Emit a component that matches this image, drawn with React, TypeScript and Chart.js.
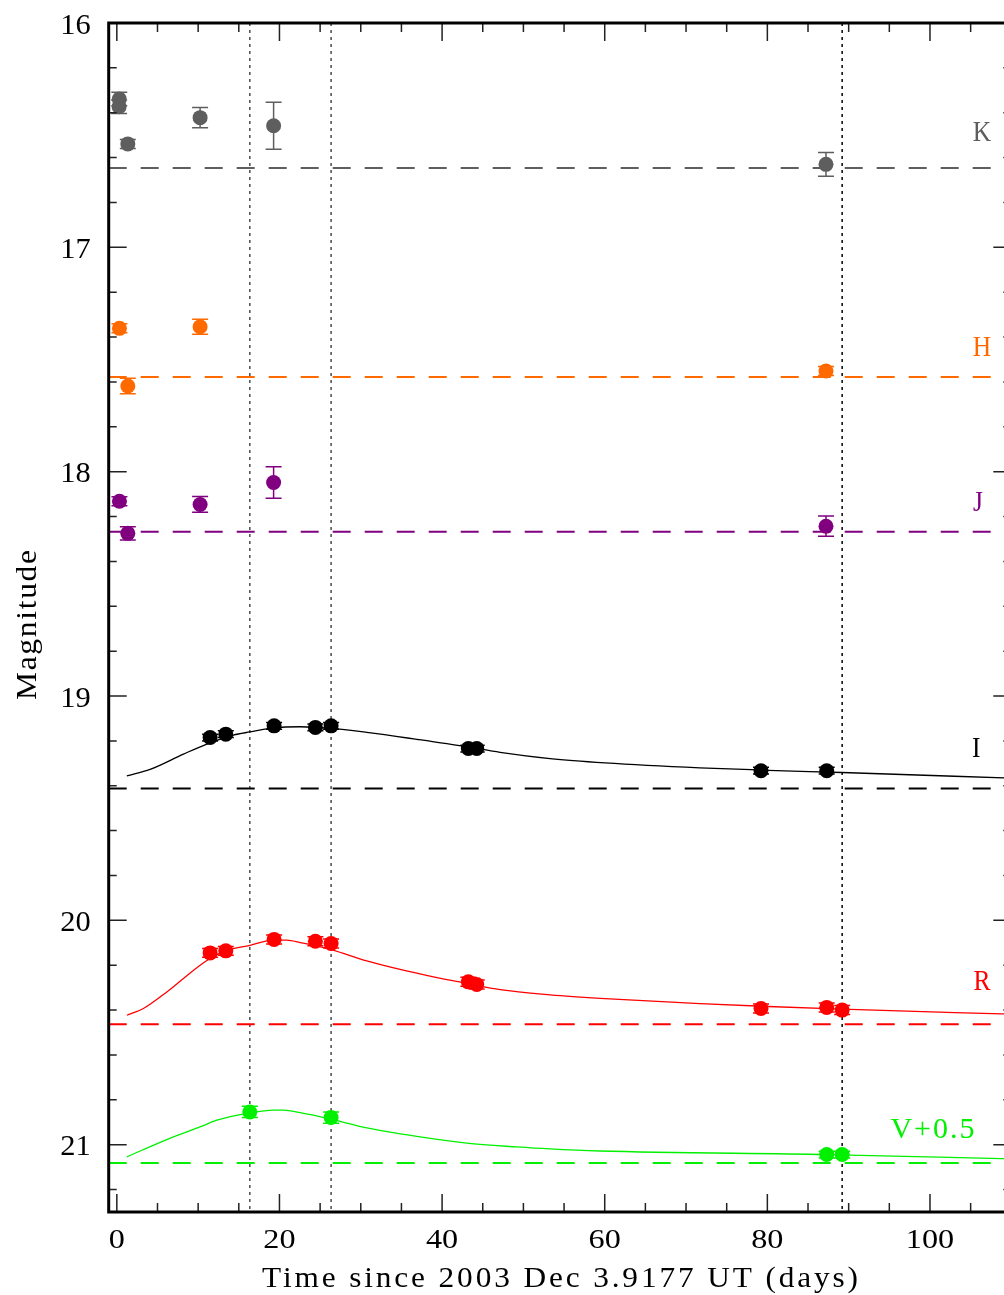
import React, { useEffect, useRef } from "react";
import { Chart, registerables } from "chart.js";

Chart.register(...registerables);

// ---- Axis setup ----
const X_MIN = -1;
const X_MAX = 110;
const Y_MIN = 16;
const Y_MAX = 21.3;
const xTickLabels = [0, 20, 40, 60, 80, 100];
const xMinorStep = 5;
const yTickLabels = [16, 17, 18, 19, 20, 21];
const yMinorStep = 0.2;

// ---- Photometry (days since 2003 Dec 3.9177 UT, magnitudes) ----
const kTime = [0.3, 0.28, 1.35, 10.24, 19.28, 87.21];
const kMag = [16.339, 16.373, 16.539, 16.422, 16.458, 16.63];
const kErr = [0.03, 0.03, 0.02, 0.045, 0.105, 0.053];

const hTime = [0.32, 1.35, 10.24, 87.21];
const hMag = [17.361, 17.618, 17.354, 17.551];
const hErr = [0.02, 0.035, 0.033, 0.02];

const jTime = [0.32, 1.35, 10.24, 19.28, 87.21];
const jMag = [18.132, 18.275, 18.146, 18.048, 18.243];
const jErr = [0.02, 0.03, 0.035, 0.07, 0.045];

const iTime = [11.47, 13.4, 19.34, 24.42, 26.35, 43.23, 44.26, 79.22, 87.3];
const iMag = [19.185, 19.17, 19.133, 19.14, 19.133, 19.234, 19.234, 19.333, 19.333];
const iErr = [0.015, 0.015, 0.015, 0.015, 0.015, 0.015, 0.015, 0.015, 0.015];

const rTime = [11.47, 13.4, 19.34, 24.42, 26.35, 43.23, 44.26, 79.22, 87.3, 89.2];
const rMag = [20.145, 20.136, 20.085, 20.093, 20.103, 20.274, 20.286, 20.393, 20.388, 20.4];
const rErr = [0.02, 0.02, 0.02, 0.02, 0.02, 0.02, 0.02, 0.02, 0.02, 0.02];

const vTime = [16.35, 26.35, 87.3, 89.2];
const vMag = [20.854, 20.879, 21.044, 21.044];
const vErr = [0.025, 0.025, 0.015, 0.015];

// ---- Model light curves ----
const iModelTime = [1.23, 4.09, 8.19, 11.07, 14.34, 16.39, 19.26, 22.54, 26.35, 30.74, 36.89, 43.03, 47.13, 53.28, 60.04, 71.7, 80.1, 89.2, 110];
const iModelMag = [19.356, 19.327, 19.259, 19.214, 19.174, 19.16, 19.142, 19.137, 19.144, 19.162, 19.193, 19.226, 19.251, 19.279, 19.298, 19.32, 19.331, 19.341, 19.366];

const rModelTime = [1.23, 3.27, 6.15, 8.19, 10.24, 11.47, 13.32, 16.39, 19.26, 20.9, 22.54, 26.35, 30.74, 34.83, 38.93, 43.03, 47.13, 53.28, 60.04, 71.7, 80.1, 89.2, 110];
const rModelMag = [20.423, 20.393, 20.319, 20.259, 20.2, 20.17, 20.136, 20.111, 20.088, 20.088, 20.099, 20.13, 20.181, 20.219, 20.252, 20.281, 20.309, 20.332, 20.349, 20.371, 20.384, 20.396, 20.418];

const vModelTime = [1.23, 6.15, 10.24, 12.3, 16.39, 19.26, 20.48, 22.54, 26.35, 30.74, 36.89, 43.03, 49.18, 53.28, 59.42, 87.3, 110];
const vModelMag = [21.054, 20.977, 20.921, 20.891, 20.858, 20.846, 20.846, 20.857, 20.886, 20.925, 20.963, 20.993, 21.01, 21.019, 21.028, 21.044, 21.063];

// ---- Host / reference levels (dashed) and epochs (dotted) ----
const bandNames = ["K", "H", "J", "I", "R", "V+0.5"];
const bandColors = ["#5e5e5e", "#ff6a00", "#800080", "#000000", "#ff0000", "#00f000"];
const hostLevels = [16.646, 17.578, 18.268, 19.412, 20.463, 21.082];
const epochLines = [16.35, 26.35, 89.2];
const epochColors = ["#555555", "#555555", "#111111"];

// label anchors (data units: x in days, y in magnitudes)
const bandLabelX = [106.4, 106.4, 105.9, 105.7, 106.4, 100.3];
const bandLabelY = [16.524, 17.485, 18.177, 19.27, 20.312, 20.968];

const FONT = '"Liberation Serif", "DejaVu Serif", serif';

const pts = (t: number[], m: number[]) => t.map((v, i) => ({ x: v, y: m[i] }));

function drawText(
  ctx: CanvasRenderingContext2D,
  text: string,
  x: number,
  y: number,
  o: { size: number; color: string; width?: number; sx?: number; align?: "left" | "center" | "right"; rotate?: number }
) {
  ctx.save();
  ctx.translate(x, y);
  if (o.rotate) ctx.rotate(o.rotate);
  ctx.font = `${o.size}px ${FONT}`;
  ctx.fillStyle = o.color;
  ctx.textBaseline = "alphabetic";
  ctx.textAlign = "left";
  (ctx as any).letterSpacing = "0px";
  let w = ctx.measureText(text).width;
  let sx = o.sx ?? 1.1;
  if (o.width) {
    const n = text.length;
    let ls = n > 1 ? (o.width / sx - w) / (n - 1) : 0;
    if (ls < 0 || n === 1) {
      sx = o.width / w;
      ls = 0;
    }
    (ctx as any).letterSpacing = `${ls}px`;
    w = w + ls * (n - 1);
  }
  ctx.scale(sx, 1);
  const align = o.align ?? "center";
  const start = align === "center" ? -w / 2 : align === "right" ? -w : 0;
  ctx.fillText(text, start, 0);
  ctx.restore();
}

const errorBarPlugin = {
  id: "errorBars",
  beforeDatasetDraw(chart: any, args: any) {
    const ds = chart.data.datasets[args.index];
    if (!ds.errors) return;
    const { ctx, chartArea: a, scales } = chart;
    const xs = scales.x;
    const ys = scales.y;
    ctx.save();
    ctx.beginPath();
    ctx.rect(a.left, a.top, a.right - a.left, a.bottom - a.top);
    ctx.clip();
    ctx.strokeStyle = ds.backgroundColor;
    ctx.lineWidth = 1.5;
    ds.data.forEach((p: any, i: number) => {
      const e = ds.errors[i];
      const px = xs.getPixelForValue(p.x);
      const y1 = ys.getPixelForValue(p.y - e);
      const y2 = ys.getPixelForValue(p.y + e);
      ctx.beginPath();
      ctx.moveTo(px, y1);
      ctx.lineTo(px, y2);
      ctx.moveTo(px - 8, y1);
      ctx.lineTo(px + 8, y1);
      ctx.moveTo(px - 8, y2);
      ctx.lineTo(px + 8, y2);
      ctx.stroke();
    });
    ctx.restore();
  },
};

const framePlugin = {
  id: "frame",
  afterDraw(chart: any) {
    const { ctx, chartArea: a, scales } = chart;
    const xs = scales.x;
    const ys = scales.y;
    ctx.save();
    ctx.strokeStyle = "#222";
    ctx.lineWidth = 1.5;
    // x ticks (bottom and top, pointing inward)
    for (let v = 0; v <= X_MAX + 1e-6; v += xMinorStep) {
      const major = xTickLabels.includes(Math.round(v)) && Math.round(v) % 20 === 0;
      const len = major ? 18 : 9;
      const px = xs.getPixelForValue(v);
      ctx.beginPath();
      ctx.moveTo(px, a.bottom);
      ctx.lineTo(px, a.bottom - len);
      ctx.moveTo(px, a.top);
      ctx.lineTo(px, a.top + len);
      ctx.stroke();
    }
    // y ticks (left and right, pointing inward)
    for (let k = 0; Y_MIN + k * yMinorStep <= Y_MAX + 1e-6; k++) {
      const v = Y_MIN + k * yMinorStep;
      const major = k % 5 === 0;
      const len = major ? 18 : 8;
      const py = ys.getPixelForValue(v);
      ctx.beginPath();
      ctx.moveTo(a.left, py);
      ctx.lineTo(a.left + len, py);
      ctx.moveTo(a.right, py);
      ctx.lineTo(a.right - len, py);
      ctx.stroke();
    }
    // frame
    ctx.strokeStyle = "#000";
    ctx.lineWidth = 3;
    ctx.strokeRect(a.left, a.top, a.right - a.left, a.bottom - a.top);
    ctx.restore();

    // tick labels
    xTickLabels.forEach((v) => {
      drawText(ctx, String(v), xs.getPixelForValue(v), a.bottom + 35.5, { size: 28, color: "#000", sx: 1.15 });
    });
    yTickLabels.forEach((v) => {
      drawText(ctx, String(v), a.left - 18, ys.getPixelForValue(v) + 10.5, { size: 29, color: "#000", sx: 1.05, align: "right" });
    });

    // axis titles
    drawText(ctx, "Time since 2003 Dec 3.9177 UT (days)", (a.left + a.right) / 2, a.bottom + 74.5, {
      size: 29,
      color: "#000",
      width: 596,
      sx: 1.08,
    });
    drawText(ctx, "Magnitude", 36, 625, { size: 30, color: "#000", width: 150, sx: 1.05, rotate: -Math.PI / 2 });

    // band labels
    bandNames.forEach((name, i) => {
      drawText(ctx, name, xs.getPixelForValue(bandLabelX[i]), ys.getPixelForValue(bandLabelY[i]), {
        size: 30,
        color: bandColors[i],
        sx: name.length > 1 ? 1.0 : 0.85,
        width: name.length > 1 ? 84 : undefined,
      });
    });
  },
};

export default function App() {
  const ref = useRef<HTMLCanvasElement | null>(null);

  useEffect(() => {
    if (!ref.current) return;

    const photometry = [
      { t: kTime, m: kMag, e: kErr },
      { t: hTime, m: hMag, e: hErr },
      { t: jTime, m: jMag, e: jErr },
      { t: iTime, m: iMag, e: iErr },
      { t: rTime, m: rMag, e: rErr },
      { t: vTime, m: vMag, e: vErr },
    ];

    const pointSets = photometry.map((p, i) => ({
      label: bandNames[i],
      data: pts(p.t, p.m),
      errors: p.e,
      backgroundColor: bandColors[i],
      borderColor: bandColors[i],
      pointRadius: 7.5,
      pointBorderWidth: 0,
      showLine: false,
      order: 0,
    }));

    const models = [
      { t: iModelTime, m: iModelMag, c: bandColors[3] },
      { t: rModelTime, m: rModelMag, c: bandColors[4] },
      { t: vModelTime, m: vModelMag, c: bandColors[5] },
    ].map((s) => ({
      label: "model",
      data: pts(s.t, s.m),
      borderColor: s.c,
      backgroundColor: s.c,
      borderWidth: 1.3,
      pointRadius: 0,
      showLine: true,
      tension: 0.4,
      cubicInterpolationMode: "monotone" as const,
      order: 1,
    }));

    const hostLines = hostLevels.map((lv, i) => ({
      label: "host",
      data: [
        { x: X_MIN, y: lv },
        { x: X_MAX, y: lv },
      ],
      borderColor: bandColors[i],
      backgroundColor: bandColors[i],
      borderWidth: 2,
      borderDash: [18, 14],
      pointRadius: 0,
      showLine: true,
      order: 2,
    }));

    const epochSets = epochLines.map((t, i) => ({
      label: "epoch",
      data: [
        { x: t, y: Y_MIN },
        { x: t, y: Y_MAX },
      ],
      borderColor: epochColors[i],
      backgroundColor: epochColors[i],
      borderWidth: 1.6,
      borderDash: [3, 4],
      pointRadius: 0,
      showLine: true,
      order: 3,
    }));

    const chart = new Chart(ref.current, {
      type: "scatter",
      data: { datasets: [...pointSets, ...models, ...hostLines, ...epochSets] as any },
      options: {
        animation: false,
        responsive: false,
        devicePixelRatio: 1,
        events: [],
        layout: { padding: { left: 108.7, right: 8.7, top: 23, bottom: 83 } },
        plugins: { legend: { display: false }, tooltip: { enabled: false } },
        scales: {
          x: { type: "linear", min: X_MIN, max: X_MAX, display: false },
          y: { type: "linear", min: Y_MIN, max: Y_MAX, reverse: true, display: false },
        },
      },
      plugins: [errorBarPlugin, framePlugin],
    });

    return () => chart.destroy();
  }, []);

  return (
    <div
      style={{
        position: "fixed",
        left: 0,
        top: 0,
        width: 1004,
        height: 1295,
        overflow: "hidden",
        background: "#fff",
      }}
    >
      <canvas ref={ref} width={1020} height={1295} style={{ display: "block", width: 1020, height: 1295 }} />
    </div>
  );
}
